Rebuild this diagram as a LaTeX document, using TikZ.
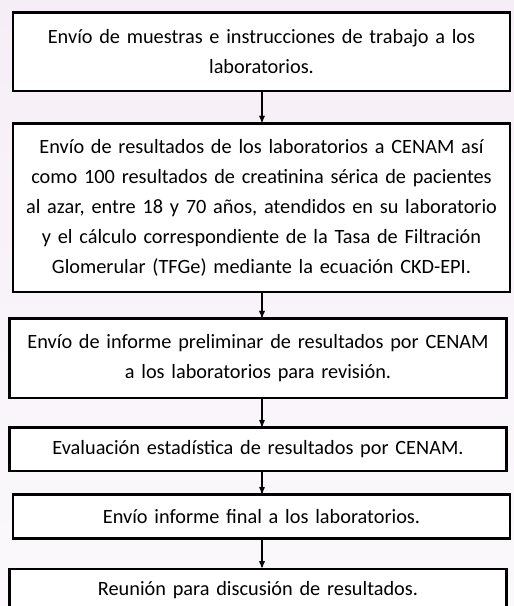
\documentclass[tikz,border=0pt]{standalone}
\usepackage{fontspec}
\setmainfont{Carlito}
\usetikzlibrary{arrows,positioning}
\definecolor{fondoarriba}{RGB}{246,238,246}
\definecolor{fondoabajo}{RGB}{251,249,252}

\begin{document}
\begin{tikzpicture}[>=stealth',x=1pt,y=1pt,line width=2.6pt]
%background
  \shade[top color=fondoarriba,bottom color=fondoabajo] (0,0) rectangle (514,-606);
  \useasboundingbox (0,0) rectangle (514,-606);

   \tikzstyle{paso}=[draw,fill=white,align=center,text width=497pt,inner sep=0pt,font=\fontsize{20.3}{30}\selectfont]
   \tikzstyle{flecha}=[->,line width=1.3pt]
  \coordinate (eje) at (262,0);

  \node[paso,minimum height=78.5pt,anchor=north] (muestras) at (261.5,-11)
    {Envío de muestras e instrucciones de trabajo a los\\ laboratorios.};
  \node[paso,minimum height=168.5pt] (resultados) [below=30pt of muestras]
    {Envío de resultados de los laboratorios a CENAM así\\
     como 100 resultados de creatinina sérica de pacientes\\
     al azar, entre 18 y 70 años, atendidos en su laboratorio\\
     y el cálculo correspondiente de la Tasa de Filtración\\
     Glomerular (TFGe) mediante la ecuación CKD-EPI.};
  \node[paso,minimum height=79.5pt] (informe) [below=24pt of resultados,xshift=-3.5pt]
    {Envío de informe preliminar de resultados por CENAM\\ a los laboratorios para revisión.};
  \node[paso,minimum height=43.5pt] (evaluacion) [below=27pt of informe]
    {Evaluación estadística de resultados por CENAM.};
  \node[paso,minimum height=43.5pt] (final) [below=21pt of evaluacion,xshift=3.5pt]
    {Envío informe final a los laboratorios.};
  \node[paso,minimum height=43.5pt] (reunion) [below=28pt of final,xshift=-3.5pt]
    {Reunión para discusión de resultados.};

%, shorten >=1pt
 \draw[flecha] (muestras.south -| eje) -- (resultados.north -| eje);
 \draw[flecha] (resultados.south -| eje) -- (informe.north -| eje);
 \draw[flecha] (informe.south -| eje) -- (evaluacion.north -| eje);
 \draw[flecha] (evaluacion.south -| eje) -- (final.north -| eje);
 \draw[flecha] (final.south -| eje) -- (reunion.north -| eje);

\end{tikzpicture}
\end{document}
